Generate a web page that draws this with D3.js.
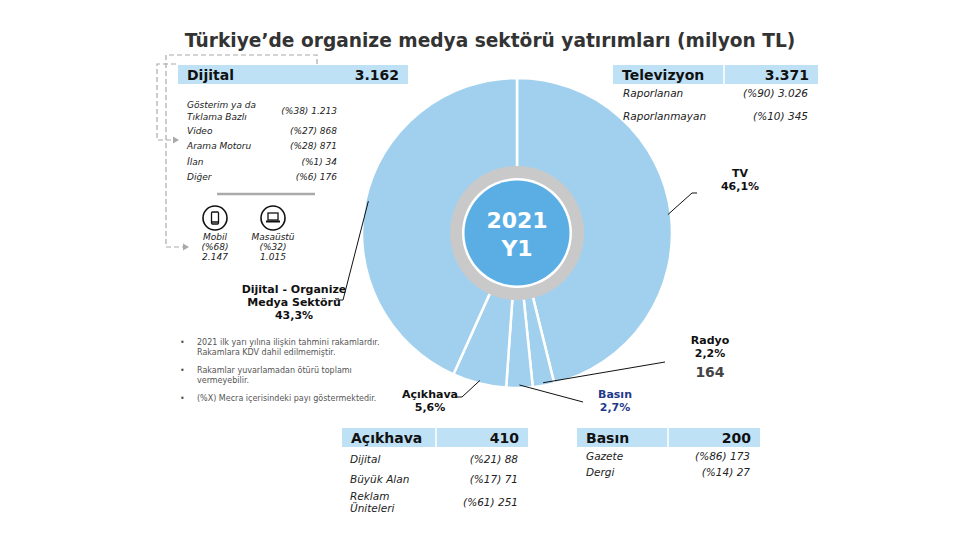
<!DOCTYPE html>
<html>
<head>
<meta charset="utf-8">
<style>
  body { margin: 0; background: #fff; }
  svg { font-family: "DejaVu Sans", Verdana, sans-serif; }
</style>
</head>
<body>
<script src="https://d3js.org/d3.v7.min.js"></script>
<div id="chart"></div>
<script>
// Ana mecralar (milyon TL)
const segments = ['TV', 'Radyo', 'Basın', 'Açıkhava', 'Dijital'];
const segmentValues = [3371, 164, 200, 410, 3162];

// Alt kırılımlar
const dijitalRows = ['Video', 'Arama Motoru', 'İlan', 'Diğer'];
const dijitalShares = ['(%27) 868', '(%28) 871', '(%1) 34', '(%6) 176'];
const deviceNames = ['Mobil', 'Masaüstü'];
const deviceShares = ['(%68)', '(%32)'];
const deviceValues = ['2.147', '1.015'];
const tvRows = ['Raporlanan', 'Raporlanmayan'];
const tvShares = ['(%90) 3.026', '(%10) 345'];
const acikhavaRows = ['Dijital', 'Büyük Alan'];
const acikhavaShares = ['(%21) 88', '(%17) 71'];
const basinRows = ['Gazete', 'Dergi'];
const basinShares = ['(%86) 173', '(%14) 27'];
const notes = [
  ['2021 ilk yarı yılına ilişkin tahmini rakamlardır.', 'Rakamlara KDV dahil edilmemiştir.'],
  ['Rakamlar yuvarlamadan ötürü toplamı', 'vermeyebilir.'],
  ['(%X) Mecra içerisindeki payı göstermektedir.']
];

const width = 972, height = 547;
const cx = 517, cy = 233, rOuter = 155, rInner = 64;
const pieBlue = '#a0d0ee', headBlue = '#bfe1f6', textDark = '#111';

const svg = d3.select('#chart').append('svg')
  .attr('width', width).attr('height', height);

// başlık
svg.append('text')
  .attr('x', 490).attr('y', 47)
  .attr('text-anchor', 'middle')
  .style('font-size', '18.6px').style('font-weight', 'bold')
  .style('fill', '#333')
  .text('Türkiye’de organize medya sektörü yatırımları (milyon TL)');

// pasta
const total = d3.sum(segmentValues);
const pie = d3.pie().sort(null).value(d => d.value);
const arcs = pie(segments.map((s, i) => ({ name: s, value: segmentValues[i] })));
const arc = d3.arc().innerRadius(rInner).outerRadius(rOuter);
const g = svg.append('g').attr('transform', `translate(${cx},${cy})`);
g.selectAll('path.slice').data(arcs).enter().append('path')
  .attr('class', 'slice')
  .attr('d', arc)
  .style('fill', pieBlue)
  .style('stroke', '#fff')
  .style('stroke-width', 2.5);

g.append('circle').attr('r', 67).style('fill', '#c9c9c9');
g.append('circle').attr('r', 55).style('fill', '#fff');
g.append('circle').attr('r', 52.5).style('fill', '#5baee3');
g.append('text').attr('y', -5).attr('text-anchor', 'middle')
  .style('font-size', '22px').style('font-weight', 'bold').style('fill', '#fff')
  .text('2021');
g.append('text').attr('y', 23).attr('text-anchor', 'middle')
  .style('font-size', '22px').style('font-weight', 'bold').style('fill', '#fff')
  .text('Y1');

// etiketler ve bağlantı çizgileri
const pct = v => d3.format('.1f')(v / total * 100).replace('.', ',') + '%';
const labelLayout = {
  'TV':       { x: 740, y: 177, pts: [[692, 193], [697, 193]], color: textDark },
  'Radyo':    { x: 710, y: 344, pts: [[665, 362]], color: textDark },
  'Basın':    { x: 615, y: 398, pts: [[583, 402]], color: '#1f3a8a' },
  'Açıkhava': { x: 430, y: 398, pts: [[462, 397], [455, 397]], color: textDark },
  'Dijital':  { x: 294, y: 293, pts: [[343, 300], [336, 300]], color: textDark }
};
const edge = d3.arc().innerRadius(rOuter - 3).outerRadius(rOuter - 3);
arcs.forEach(a => {
  const L = labelLayout[a.data.name];
  const c = edge.centroid(a);
  const pts = [[cx + c[0], cy + c[1]]].concat(L.pts);
  svg.append('path')
    .attr('d', d3.line()(pts))
    .style('fill', 'none').style('stroke', '#111').style('stroke-width', 1);
  const t = svg.append('text').attr('text-anchor', 'middle')
    .style('font-size', '11px').style('font-weight', 'bold').style('fill', L.color);
  const lines = a.data.name === 'Dijital'
    ? ['Dijital - Organize', 'Medya Sektörü', pct(a.value)]
    : [a.data.name, pct(a.value)];
  lines.forEach((s, i) => t.append('tspan').attr('x', L.x).attr('y', L.y + i * 13).text(s));
});
svg.append('text').attr('x', 710).attr('y', 377).attr('text-anchor', 'middle')
  .style('font-size', '14px').style('font-weight', 'bold').style('fill', '#444')
  .text(d3.format(',')(segmentValues[1]).replace(/,/g, '.'));

// tablo kutuları
function headerAt(y, x, w, div, name, value) {
  const hg = svg.append('g').attr('transform', `translate(0,${y - 65})`);
  hg.append('rect').attr('x', x).attr('y', 65).attr('width', w).attr('height', 19)
    .style('fill', headBlue);
  if (div) hg.append('line').attr('x1', div).attr('x2', div).attr('y1', 65).attr('y2', 84)
    .style('stroke', '#fff').style('stroke-width', 1.5);
  hg.append('text').attr('x', x + 9).attr('y', 80)
    .style('font-size', '14px').style('font-weight', 'bold').style('fill', textDark).text(name);
  hg.append('text').attr('x', x + w - 9).attr('y', 80).attr('text-anchor', 'end')
    .style('font-size', '14px').style('font-weight', 'bold').style('fill', textDark).text(value);
}
function row(xl, xr, y, label, share, size) {
  const fs = (size || 10) + 'px';
  const t = svg.append('text').attr('x', xl).attr('y', y)
    .style('font-size', fs).style('font-style', 'italic').style('fill', '#222');
  [].concat(label).forEach((s, i) => t.append('tspan').attr('x', xl).attr('dy', i ? 12 : 0).text(s));
  svg.append('text').attr('x', xr).attr('y', y + ([].concat(label).length - 1) * 6)
    .attr('text-anchor', 'end')
    .style('font-size', fs).style('font-style', 'italic').style('fill', '#222').text(share);
}
const fmt = v => d3.format(',')(v).replace(/,/g, '.');

// Dijital
headerAt(65, 178, 230, null, 'Dijital', fmt(segmentValues[4]));
row(187, 337, 108, ['Gösterim ya da', 'Tıklama Bazlı'], '(%38) 1.213', 9);
dijitalRows.forEach((r, i) => row(187, 337, 134 + i * 15.3, r, dijitalShares[i], 9));
svg.append('line').attr('x1', 217).attr('x2', 315).attr('y1', 194).attr('y2', 194)
  .style('stroke', '#aaa').style('stroke-width', 2.5);

// cihaz ikonları
deviceNames.forEach((d, i) => {
  const x = 215 + i * 58, y = 218;
  svg.append('circle').attr('cx', x).attr('cy', y).attr('r', 12)
    .style('fill', '#fff').style('stroke', '#111').style('stroke-width', 1.6);
  if (i === 0) {
    svg.append('rect').attr('x', x - 3.5).attr('y', y - 6).attr('width', 7).attr('height', 12).attr('rx', 1)
      .style('fill', 'none').style('stroke', '#111').style('stroke-width', 1.3);
    svg.append('line').attr('x1', x - 3.5).attr('x2', x + 3.5).attr('y1', y + 4).attr('y2', y + 4)
      .style('stroke', '#111').style('stroke-width', 1.5);
  } else {
    svg.append('rect').attr('x', x - 5).attr('y', y - 5).attr('width', 10).attr('height', 7)
      .style('fill', 'none').style('stroke', '#111').style('stroke-width', 1.3);
    svg.append('rect').attr('x', x - 7).attr('y', y + 2.5).attr('width', 14).attr('height', 2)
      .style('fill', '#111');
  }
  [d, deviceShares[i], deviceValues[i]].forEach((s, k) => {
    svg.append('text').attr('x', x).attr('y', y + 22 + k * 10).attr('text-anchor', 'middle')
      .style('font-size', '9px').style('font-style', 'italic').style('fill', '#222').text(s);
  });
});

// kesikli oklar
const dash = (pts) => svg.append('path').attr('d', d3.line()(pts))
  .style('fill', 'none').style('stroke', '#aaa').style('stroke-width', 1.2)
  .style('stroke-dasharray', '5,3');
dash([[317, 64], [317, 55], [166, 55], [166, 247], [183, 247]]);
dash([[176, 64], [157, 64], [157, 140], [173, 140]]);
const arrow = (x, y) => svg.append('path')
  .attr('d', `M${x},${y - 3.5}L${x + 6},${y}L${x},${y + 3.5}Z`).style('fill', '#aaa');
arrow(183, 247);
arrow(173, 140);

// Televizyon
headerAt(65, 613, 205, 724, 'Televizyon', fmt(segmentValues[0]));
tvRows.forEach((r, i) => row(623, 808, 97 + i * 23, r, tvShares[i], 10.5));

// Açıkhava
headerAt(428, 342, 186, 436, 'Açıkhava', fmt(segmentValues[3]));
acikhavaRows.forEach((r, i) => row(350, 518, 463 + i * 20, r, acikhavaShares[i], 10.5));
row(350, 518, 500, ['Reklam', 'Üniteleri'], '(%61) 251', 10.5);

// Basın
headerAt(428, 577, 183, 668, 'Basın', fmt(segmentValues[2]));
basinRows.forEach((r, i) => row(586, 750, 460 + i * 15.5, r, basinShares[i], 10.5));

// notlar
let ny = 345;
notes.forEach(n => {
  svg.append('text').attr('x', 180).attr('y', ny).style('font-size', '8px').style('fill', '#555').text('•');
  n.forEach((s, i) => {
    svg.append('text').attr('x', 197).attr('y', ny + i * 10)
      .style('font-size', '8px').style('fill', '#555').text(s);
  });
  ny += n.length * 10 + 8;
});
</script>
</body>
</html>
